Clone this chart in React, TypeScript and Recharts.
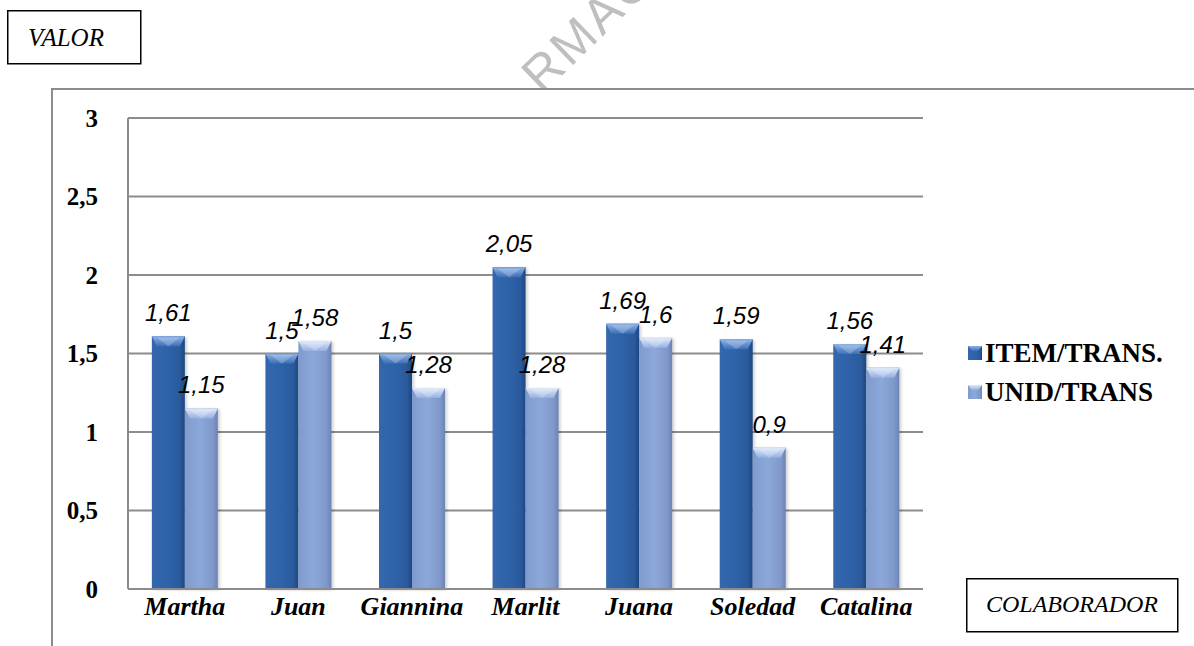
import React from 'react';
import { BarChart, Bar, XAxis, YAxis, CartesianGrid, LabelList } from 'recharts';

// Collaborators and their per-transaction ratios
const colaboradores = ['Martha', 'Juan', 'Giannina', 'Marlit', 'Juana', 'Soledad', 'Catalina'];
const itemPorTrans = [1.61, 1.5, 1.5, 2.05, 1.69, 1.59, 1.56];
const unidPorTrans = [1.15, 1.58, 1.28, 1.28, 1.6, 0.9, 1.41];
const yTicks = [0, 0.5, 1, 1.5, 2, 2.5, 3];
const seriesNames = ['ITEM/TRANS.', 'UNID/TRANS'];

const SERIES = [
  { key: 'item', name: seriesNames[0], grad: 'gradItem', top: 'topItem', base: '#2f62a8' },
  { key: 'unid', name: seriesNames[1], grad: 'gradUnid', top: 'topUnid', base: '#8aa6d8' },
];

const data = colaboradores.map((c, i) => ({
  name: c,
  item: itemPorTrans[i],
  unid: unidPorTrans[i],
}));

const fmt = (v: number) => String(v).replace('.', ',');

const SERIF = "'Liberation Serif', 'Times New Roman', serif";
const SANS = "'Liberation Sans', Arial, sans-serif";
const GRID = '#8c8c8c';

// Bar with a bevelled top and soft side shading
const makeBevelBar = (grad: string, top: string) => (props: any) => {
  const { x, y, width, height } = props;
  if (!height || height <= 0) return null;
  const b = Math.min(10, height);
  return (
    <g>
      <rect x={x + 2} y={y + 1} width={width} height={height} fill="#000" opacity={0.18} filter="url(#barShadow)" />
      <rect x={x} y={y} width={width} height={height} fill={`url(#${grad})`} />
      <polygon
        points={`${x},${y} ${x + width},${y} ${x + width - 5},${y + b} ${x + 5},${y + b}`}
        fill={`url(#${top})`}
      />
      <polygon
        points={`${x + 5},${y + 1.5} ${x + width - 5},${y + 1.5} ${x + width / 2},${y + b}`}
        fill="#ffffff"
        opacity={0.22}
      />
    </g>
  );
};

const ValueLabel = (props: any) => {
  const { x, y, width, value } = props;
  return (
    <text
      x={x + width / 2}
      y={y - 15}
      textAnchor="middle"
      fontFamily={SANS}
      fontStyle="italic"
      fontSize={24}
      fill="#000"
    >
      {fmt(value)}
    </text>
  );
};

const Gradients = () => (
  <defs>
    <linearGradient id="gradItem" x1="0" y1="0" x2="1" y2="0">
      <stop offset="0%" stopColor="#3467ad" />
      <stop offset="45%" stopColor="#2f63a9" />
      <stop offset="85%" stopColor="#2a5a9c" />
      <stop offset="100%" stopColor="#1d4780" />
    </linearGradient>
    <linearGradient id="gradUnid" x1="0" y1="0" x2="1" y2="0">
      <stop offset="0%" stopColor="#7f9bce" />
      <stop offset="45%" stopColor="#8ca8da" />
      <stop offset="85%" stopColor="#7f98c9" />
      <stop offset="100%" stopColor="#6b84b5" />
    </linearGradient>
    <linearGradient id="topItem" x1="0" y1="0" x2="0" y2="1">
      <stop offset="0%" stopColor="#8fb2e4" />
      <stop offset="100%" stopColor="#3c70b8" />
    </linearGradient>
    <linearGradient id="topUnid" x1="0" y1="0" x2="0" y2="1">
      <stop offset="0%" stopColor="#dfe9fa" />
      <stop offset="100%" stopColor="#95b0e0" />
    </linearGradient>
    <filter id="barShadow" x="-20%" y="-5%" width="140%" height="110%">
      <feGaussianBlur stdDeviation="1.5" />
    </filter>
  </defs>
);

export default function App() {
  return (
    <div style={{ position: 'absolute', left: 0, top: 0, width: 1194, height: 646, background: '#fff', overflow: 'hidden' }}>
      {/* frames, titles, legend and watermark */}
      <svg width={1194} height={646} style={{ position: 'absolute', left: 0, top: 0 }}>
        <Gradients />
        <clipPath id="aboveFrame">
          <rect x={0} y={0} width={1194} height={88} />
        </clipPath>
        <g clipPath="url(#aboveFrame)">
          <text
            x={0}
            y={0}
            transform="translate(542 95) rotate(-44)"
            fontFamily={SANS}
            fontSize={50}
            letterSpacing={3}
            fill="#bfbfbf"
          >
            RMAC
          </text>
        </g>

        <rect x={7.75} y={10.75} width={133} height={53} fill="none" stroke="#000" strokeWidth={1.5} />
        <text x={28} y={46} fontFamily={SERIF} fontStyle="italic" fontSize={25} fill="#000">
          VALOR
        </text>

        <line x1={52} y1={89} x2={1194} y2={89} stroke={GRID} strokeWidth={2} />
        <line x1={52} y1={88} x2={52} y2={646} stroke={GRID} strokeWidth={2} />

        {SERIES.map((s, i) => (
          <g key={s.key} transform={`translate(968 ${346 + i * 39})`}>
            <rect x={0} y={0} width={14} height={14} fill={`url(#${s.grad})`} />
            <polygon points="0,0 14,0 10,5 4,5" fill={`url(#${s.top})`} />
            <text x={17} y={16} fontFamily={SERIF} fontWeight="bold" fontSize={27} fill="#000">
              {s.name}
            </text>
          </g>
        ))}

        <rect x={966.75} y={578.75} width={211} height={53} fill="none" stroke="#000" strokeWidth={1.5} />
        <text x={1072} y={612} textAnchor="middle" fontFamily={SERIF} fontStyle="italic" fontSize={24} fill="#000">
          COLABORADOR
        </text>
      </svg>

      <div style={{ position: 'absolute', left: 0, top: 0 }}>
        <BarChart
          width={1194}
          height={646}
          data={data}
          margin={{ top: 118, right: 271, bottom: 17, left: 68 }}
          barCategoryGap="21%"
          barGap={0}
        >
          <Gradients />
          <CartesianGrid horizontal vertical={false} stroke={GRID} strokeWidth={2} />
          <XAxis
            dataKey="name"
            axisLine={{ stroke: GRID, strokeWidth: 2 }}
            tickLine={false}
            tickSize={0}
            tickMargin={8}
            height={40}
            interval={0}
            tick={{ fontFamily: SERIF, fontWeight: 'bold', fontStyle: 'italic', fontSize: 26, fill: '#000' }}
          />
          <YAxis
            domain={[0, 3]}
            ticks={yTicks}
            interval={0}
            width={60}
            axisLine={{ stroke: GRID, strokeWidth: 2 }}
            tickLine={false}
            tickSize={0}
            tickMargin={30}
            tickFormatter={fmt}
            tick={{ fontFamily: SERIF, fontWeight: 'bold', fontSize: 25, fill: '#000' }}
          />
          {SERIES.map((s) => (
            <Bar
              key={s.key}
              dataKey={s.key}
              name={s.name}
              fill={s.base}
              isAnimationActive={false}
              shape={makeBevelBar(s.grad, s.top)}
            >
              <LabelList dataKey={s.key} content={<ValueLabel />} />
            </Bar>
          ))}
        </BarChart>
      </div>
    </div>
  );
}
